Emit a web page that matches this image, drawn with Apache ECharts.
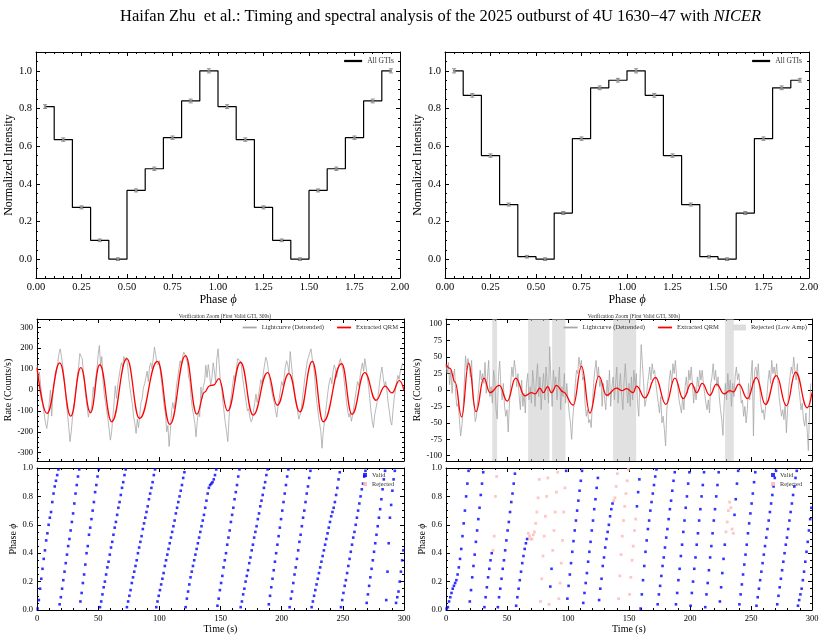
<!DOCTYPE html>
<html>
<head>
<meta charset="utf-8">
<script src="https://cdn.jsdelivr.net/npm/echarts@6/dist/echarts.min.js"></script>
<style>
html, body { margin: 0; padding: 0; background: #fff; }
#main { width: 825px; height: 637px; }
</style>
</head>
<body>
<div id="main"></div>
<script>
// ---- data ----
var phaseBins = [0.05, 0.15, 0.25, 0.35, 0.45, 0.55, 0.65, 0.75, 0.85, 0.95,
                 1.05, 1.15, 1.25, 1.35, 1.45, 1.55, 1.65, 1.75, 1.85, 1.95];
var profileA = [0.81, 0.635, 0.275, 0.10, 0.0, 0.365, 0.48, 0.645, 0.84, 1.0,
                0.81, 0.635, 0.275, 0.10, 0.0, 0.365, 0.48, 0.645, 0.84, 1.0];
var profileB = [1.0, 0.87, 0.55, 0.29, 0.013, 0.0, 0.245, 0.64, 0.91, 0.95,
                1.0, 0.87, 0.55, 0.29, 0.013, 0.0, 0.245, 0.64, 0.91, 0.95];
var errA = [0.010, 0.009, 0.008, 0.007, 0.007, 0.008, 0.009, 0.009, 0.010, 0.011,
            0.010, 0.009, 0.008, 0.007, 0.007, 0.008, 0.009, 0.009, 0.010, 0.011];
var errB = [0.011, 0.010, 0.009, 0.008, 0.007, 0.007, 0.008, 0.009, 0.010, 0.010,
            0.011, 0.010, 0.009, 0.008, 0.007, 0.007, 0.008, 0.009, 0.010, 0.010];

// detrended lightcurves, 1 s bins starting at t = 0
var rateLeft = [
  120, 40, 85, 20, -30, -80, -120, -160, -184, -140,
  -60, 0, -125, -20, 30, 60, 95, 130, 175, 197,
  160, 120, 60, 10, -60, -120, -180, -247, -200, -130,
  -90, -40, 20, 60, 110, 175, 160, 150, 80, 20,
  -40, -80, -130, -95, -110, -60, 15, -30, 60, 100,
  170, 213, 120, 160, 40, -20, -60, -100, -140, -190,
  -240, -200, -130, -60, 20, -40, 25, 60, 100, 130,
  110, 160, 140, 157, 120, 60, 10, -30, -70, -130,
  -160, -208, -140, -180, -120, -60, -40, 10, 30, 60,
  90, 40, 110, 130, 100, 150, 205, 170, 130, 120,
  140, 80, 30, -30, -80, -110, -200, -170, -271, -200,
  -100, -60, -90, -50, 20, 60, 100, 140, 120, 160,
  181, 170, 150, 130, 60, 40, -40, -90, -120, -160,
  -224, -150, -100, -128, 14, -40, 20, 38, 118, 60,
  122, 80, 20, 60, 130, 90, 40, 150, 197, 120,
  30, 10, -60, -110, -160, -200, -247, -130, -60, -20,
  30, 70, 40, 100, 150, 157, 140, 120, 60, 20,
  -20, -60, -100, -90, -130, -152, -140, -100, -60, -20,
  -60, -30, 10, 50, 30, 80, 120, 157, 140, 100,
  60, 20, -10, -40, -60, -100, -130, -80, -40, 0,
  40, 20, 60, 110, 140, 120, 80, 184, 120, 60,
  20, -30, -60, -100, -140, -120, -90, -40, 10, 60,
  100, 140, 160, 180, 197, 150, 120, 60, -20, -70,
  -120, -160, -200, -279, -200, -150, -100, -50, 0, 40,
  60, 30, 90, 120, 100, 60, 100, 130, 150, 120,
  100, 50, 0, -60, -100, -130, -110, -150, -120, -80,
  -40, 0, 40, 20, 60, 100, 130, 90, 150, 110,
  60, 20, -40, -100, -150, -180, -120, -90, -60, -20,
  30, 80, 110, 60, 20, 40, 0, -60, -100, -150,
  -168, -100, -40, 0, 40, 70, 50, 90, 99, 130
];
var rateRight = [
  38, 25, 42, 8, 30, -5, 20, 32, -8, -25,
  -20, -45, -70, -55, -30, 10, 52, 30, 48, 35,
  20, 45, -10, -25, -48, -40, -15, 5, 30, 15,
  25, 10, 42, -5, 20, 45, -10, 5, -20, 30,
  15, -30, -44, 20, 44, 5, -15, 10, -25, -40,
  -30, -64, -20, 10, 35, 20, 45, 30, 5, 25,
  -10, -30, 15, -25, -5, -35, 10, 25, -15, 5,
  -20, 30, 10, -25, 15, 40, -10, 20, -30, 5,
  25, -15, 35, 10, -20, 66, 15, -25, 30, 5,
  20, -15, 10, 35, -30, 5, -10, 25, -20, 10,
  -15, -35, -50, -75, -40, -20, 10, 30, 25, 50,
  35, 45, 15, 20, -20, -40, -30, -50, -45, -57,
  -20, 10, 30, 45, 20, 35, 5, 15, -25, 10,
  -15, -30, 15, -10, 30, -25, 5, 20, -15, 10,
  35, -20, 5, 25, -10, -30, 15, 40, 5, -20,
  10, -25, 20, -15, 30, 5, 25, -20, -40, 15,
  69, 40, 10, -25, -15, 5, 20, 35, 15, 40,
  25, 30, 10, -5, -20, -35, -10, -50, -40, -60,
  -85, -30, -10, 15, 30, 10, 40, 25, 45, 20,
  5, -15, -25, -35, -10, -30, 5, 20, -5, 30,
  15, 35, 10, -20, 5, -15, 20, 5, 30, 15,
  30, 10, -5, -20, -30, -15, -35, 10, 20, 40,
  15, 30, 5, 20, -10, -30, -45, -69, -20, 10,
  -15, 25, -5, 15, -25, 10, -10, 20, 35, 15,
  25, 5, -20, -15, -40, -25, -50, -30, 10, -15,
  20, 45, -70, 30, 35, 20, 40, 5, -20, -35,
  -30, -45, -25, -10, 15, 30, 10, 45, 25, 35,
  20, 40, 15, -10, -25, -40, -30, -45, -20, -65,
  -30, 5, 20, 35, 25, 50, 30, 15, 40, 5,
  -10, -30, -20, -45, -55, -35, -60, -92, -30, 10
];

// extracted QRM: turning points of the red curve
var qrmLeftT = [0, 8.2, 18.6, 27.6, 35.8, 43.7, 51.3, 61.1, 73.4, 83.8, 98.5, 108.6, 121.4, 130.7,
  137, 141, 144.5, 148.7, 155.8, 166.4, 176.7, 188.5, 196.4, 205.9, 214.9, 225, 234, 249, 257.5,
  267.9, 277.1, 284.5, 290.2, 296.2, 300];
var qrmLeftV = [107, -112, 130, -125, 107, -109, 121, -152, 150, -136, 137, -165, 165, -116,
  -10, 20, 24, 54, -100, 133, -120, 83, -73, 78, -105, 137, -152, 126, -116,
  83, -49, 19, -14, 45, -1];
var qrmRightT = [0, 3.3, 7.4, 12.8, 18.6, 24.6, 31.1, 36, 43.7, 50.2, 57.1, 64.7, 70, 73, 77, 79.7,
  83.3, 86.5, 90.6, 96, 104.3, 111.1, 117.9, 125.3, 131.6, 139.8, 144, 148, 153.4, 156.2, 163,
  171.7, 180.2, 187.6, 194.4, 201.2, 205.5, 210, 216.2, 221.7, 228, 232.6, 235.5, 240, 247,
  254.4, 261.8, 270.8, 279, 286.6, 296.2, 300];
var qrmRightV = [39, 33, 12, -41, 41, -33, 18, -4, 7, -17, 18, -9, -4, -6, 3, -4,
  5, -4, 7, -3, -23, 36, -35, 21, -8, 3, -1, 2, -4, 6, -12,
  19, -22, 18, -13, 10, -4, 10, -8, 9, -6, -1, -3, 9, -13,
  19, -22, 22, -24, 27, -27, -4];
var rejectSpans = [[37.9, 41.9], [67.3, 84.8], [87, 97.9], [137, 155.9], [228.8, 235.9]];

// instantaneous phase, one value per 1 s bin centred at t = i + 0.5
var phaseLeft = [
  0.01,
  0.07, 0.15, 0.22, 0.29, 0.36, 0.42, 0.49, 0.54, 0.60, 0.65, 0.69, 0.76, 0.82, 0.87, 0.91, 0.95, 0.99,
  0.04, 0.09, 0.15, 0.21, 0.27, 0.33, 0.39, 0.45, 0.50, 0.56, 0.62, 0.68, 0.75, 0.82, 0.88, 0.94, 0.99,
  0.06, 0.12, 0.19, 0.25, 0.32, 0.40, 0.45, 0.53, 0.58, 0.64, 0.70, 0.76, 0.83, 0.88, 0.94, 0.99,
  0.02, 0.06, 0.11, 0.16, 0.20, 0.25, 0.30, 0.34, 0.39, 0.44, 0.48, 0.53, 0.58, 0.62, 0.67, 0.72, 0.76, 0.81, 0.86, 0.90, 0.95, 0.99,
  0.02, 0.06, 0.10, 0.14, 0.19, 0.23, 0.27, 0.31, 0.35, 0.40, 0.44, 0.48, 0.52, 0.57, 0.61, 0.65, 0.69, 0.73, 0.78, 0.82, 0.86, 0.90, 0.95, 0.99,
  0.02, 0.06, 0.10, 0.14, 0.18, 0.22, 0.26, 0.31, 0.35, 0.39, 0.43, 0.47, 0.51, 0.55, 0.59, 0.63, 0.68, 0.72, 0.76, 0.80, 0.84, 0.88, 0.93, 0.97,
  0.02, 0.08, 0.13, 0.18, 0.23, 0.27, 0.31, 0.35, 0.39, 0.43, 0.47, 0.51, 0.55, 0.59, 0.63, 0.67, 0.72, 0.77, 0.82, 0.86, 0.88, 0.89, 0.90, 0.92, 0.95, 0.99,
  0.03, 0.08, 0.14, 0.19, 0.24, 0.30, 0.35, 0.40, 0.46, 0.51, 0.56, 0.62, 0.67, 0.72, 0.78, 0.83, 0.88, 0.94, 0.99,
  0.02, 0.06, 0.11, 0.15, 0.20, 0.24, 0.28, 0.33, 0.37, 0.42, 0.46, 0.51, 0.55, 0.59, 0.64, 0.68, 0.73, 0.77, 0.81, 0.86, 0.90, 0.95, 0.99,
  0.04, 0.10, 0.16, 0.22, 0.28, 0.34, 0.40, 0.46, 0.52, 0.58, 0.64, 0.70, 0.76, 0.82, 0.88, 0.94, 0.99,
  0.02, 0.08, 0.13, 0.19, 0.25, 0.30, 0.36, 0.42, 0.48, 0.53, 0.59, 0.65, 0.70, 0.76, 0.82, 0.87, 0.93, 0.98,
  0.02, 0.06, 0.10, 0.14, 0.18, 0.22, 0.26, 0.30, 0.34, 0.38, 0.42, 0.46, 0.50, 0.54, 0.58, 0.62, 0.66, 0.69, 0.72, 0.76, 0.81, 0.86, 0.92, 0.97,
  0.02, 0.07, 0.12, 0.17, 0.21, 0.26, 0.31, 0.36, 0.41, 0.46, 0.51, 0.55, 0.60, 0.65, 0.70, 0.75, 0.80, 0.85, 0.89, 0.94, 0.98,
  0.05, 0.11, 0.17, 0.23, 0.29, 0.35, 0.41, 0.47, 0.53, 0.59, 0.65, 0.71, 0.78, 0.85, 0.92, 0.98,
  0.07, 0.27, 0.47, 0.65, 0.74, 0.84, 0.92, 0.98,
  0.05, 0.09, 0.13, 0.20, 0.27, 0.35, 0.42
];
var phaseRight = [
  0.01,
  0.02, 0.06, 0.09, 0.12, 0.15, 0.17, 0.19, 0.21, 0.25, 0.30, 0.36, 0.43, 0.52, 0.61, 0.70, 0.80, 0.89, 0.98,
  0.06, 0.14, 0.23, 0.31, 0.39, 0.48, 0.56, 0.64, 0.72, 0.81, 0.89, 0.97,
  0.02, 0.09, 0.16, 0.23, 0.29, 0.35, 0.40,
  0.42, 0.52, 0.80, 0.94,
  0.02, 0.09, 0.15, 0.22, 0.29, 0.35, 0.42, 0.49, 0.56, 0.62, 0.69, 0.76, 0.82, 0.89, 0.96,
  0.03, 0.09, 0.15, 0.21, 0.27, 0.33, 0.38, 0.43, 0.47, 0.50,
  0.54, 0.52, 0.50, 0.50, 0.53, 0.55, 0.61, 0.69, 0.79, 0.92, 0.06, 0.22, 0.38, 0.52, 0.66, 0.80, 0.93, 0.04,
  0.165, 0.29,
  0.42, 0.56, 0.69, 0.83, 0.97, 0.08, 0.19, 0.33, 0.49, 0.69, 0.86,
  0.98, 0.08, 0.17, 0.25, 0.33, 0.41, 0.485, 0.56, 0.63, 0.70, 0.77, 0.84, 0.91, 0.98,
  0.05, 0.12, 0.19, 0.26, 0.34, 0.41, 0.48, 0.56, 0.63, 0.71, 0.78, 0.86, 0.93,
  0.07, 0.15, 0.22, 0.31, 0.37, 0.44, 0.50, 0.55, 0.60, 0.66, 0.71, 0.75,
  0.77, 0.79, 0.87, 0.96, 0.08, 0.24, 0.39, 0.52, 0.63, 0.73, 0.82, 0.91, 0.99, 0.11, 0.23, 0.35, 0.45, 0.56, 0.64,
  0.73, 0.83, 0.92, 0.01, 0.11, 0.21, 0.31, 0.41, 0.49, 0.57, 0.63, 0.70, 0.76, 0.82, 0.88, 0.94, 0.99,
  0.04, 0.11, 0.17, 0.24, 0.31, 0.37, 0.44, 0.51, 0.57, 0.64, 0.71, 0.77, 0.84, 0.91, 0.97,
  0.04, 0.12, 0.21, 0.29, 0.38, 0.46, 0.55, 0.63, 0.72, 0.80, 0.89, 0.97,
  0.03, 0.12, 0.20, 0.29, 0.37, 0.46, 0.54, 0.63, 0.71, 0.80, 0.88, 0.97,
  0.02, 0.11, 0.19, 0.28, 0.37, 0.45, 0.54, 0.63, 0.71, 0.80, 0.88, 0.97,
  0.06, 0.16, 0.26, 0.36, 0.46,
  0.55, 0.62, 0.70, 0.76, 0.72, 0.57, 0.54,
  0.67, 0.78, 0.89, 0.98,
  0.04, 0.11, 0.18, 0.25, 0.32, 0.39, 0.46, 0.54, 0.61, 0.68, 0.75, 0.82, 0.90, 0.97,
  0.03, 0.09, 0.15, 0.21, 0.27, 0.33, 0.39, 0.45, 0.51, 0.57, 0.63, 0.69, 0.75, 0.81, 0.87, 0.93, 0.98,
  0.04, 0.10, 0.16, 0.22, 0.28, 0.34, 0.40, 0.46, 0.51, 0.57, 0.63, 0.69, 0.75, 0.81, 0.87, 0.93, 0.98,
  0.03, 0.07, 0.11, 0.15, 0.21, 0.27, 0.34, 0.41, 0.48, 0.56, 0.64, 0.72
];

// ---- helpers ----
var FONT = '"Liberation Serif", "Times New Roman", serif';
var LINE_ICON = 'path://M0,0 L40,0 L40,5 L0,5 Z';
var GRAY = '#a6a6a6';
var RED = '#ff0000';

function zip(a, b) {
    return a.map(function (v, i) { return [v, b[i]]; });
}
function inSpan(t) {
    for (var k = 0; k < rejectSpans.length; k++) {
        if (t >= rejectSpans[k][0] && t <= rejectSpans[k][1]) return true;
    }
    return false;
}

function xAxes(g, min, max, interval, fs, showLabels, name, gap) {
    var base = {
        type: 'value', gridIndex: g, min: min, max: max, interval: interval,
        axisLine: {onZero: false, lineStyle: {color: '#000', width: 1}},
        axisTick: {inside: true, length: 4, lineStyle: {color: '#000'}},
        minorTick: {show: true, splitNumber: 5, length: 2, lineStyle: {color: '#000'}},
        splitLine: {show: false}
    };
    var bottom = Object.assign({}, base, {
        position: 'bottom',
        name: name, nameLocation: 'middle', nameGap: gap,
        nameTextStyle: {fontFamily: FONT, fontSize: fs + 1.5, color: '#000',
            rich: {i: {fontFamily: FONT, fontSize: fs + 1.5, fontStyle: 'italic', color: '#000'}}},
        axisLabel: {show: showLabels, fontFamily: FONT, fontSize: fs, color: '#000', margin: 4}
    });
    var top = Object.assign({}, base, {position: 'top', axisLabel: {show: false}});
    return [bottom, top];
}

function yAxes(g, min, max, fs, name, gap, extra) {
    var base = {
        type: 'value', gridIndex: g, min: min, max: max,
        axisLine: {onZero: false, lineStyle: {color: '#000', width: 1}},
        axisTick: {inside: true, length: 4, lineStyle: {color: '#000'}},
        minorTick: {show: true, splitNumber: 4, length: 2, lineStyle: {color: '#000'}},
        splitLine: {show: false}
    };
    Object.assign(base, extra || {});
    var left = Object.assign({}, base, {
        position: 'left',
        name: name, nameLocation: 'middle', nameGap: gap,
        nameTextStyle: {fontFamily: FONT, fontSize: fs + 1.5, color: '#000',
            rich: {i: {fontFamily: FONT, fontSize: fs + 1.5, fontStyle: 'italic', color: '#000'}}},
        axisLabel: Object.assign({fontFamily: FONT, fontSize: fs, color: '#000', margin: 4,
            showMinLabel: false, showMaxLabel: false}, (extra && extra.axisLabel) || {})
    });
    var right = Object.assign({}, base, {position: 'right', axisLabel: {show: false}});
    return [left, right];
}

function errRender(params, api) {
    var x = api.value(0), y = api.value(1), e = api.value(2);
    var hi = api.coord([x, y + e]);
    var lo = api.coord([x, y - e]);
    var mid = api.coord([x, y]);
    var st = {stroke: '#8c8c8c', lineWidth: 1};
    return {
        type: 'group',
        children: [
            {type: 'line', shape: {x1: hi[0], y1: hi[1], x2: lo[0], y2: lo[1]}, style: st},
            {type: 'line', shape: {x1: hi[0] - 2, y1: hi[1], x2: hi[0] + 2, y2: hi[1]}, style: st},
            {type: 'line', shape: {x1: lo[0] - 2, y1: lo[1], x2: lo[0] + 2, y2: lo[1]}, style: st},
            {type: 'circle', shape: {cx: mid[0], cy: mid[1], r: 1.3}, style: {fill: '#8c8c8c'}}
        ]
    };
}

// ---- build series data ----
var profileDataA = zip(phaseBins, profileA);
var profileDataB = zip(phaseBins, profileB);
var errDataA = phaseBins.map(function (p, i) { return [p, profileA[i], errA[i]]; });
var errDataB = phaseBins.map(function (p, i) { return [p, profileB[i], errB[i]]; });
var lcLeft = rateLeft.map(function (v, i) { return [i, v]; });
var lcRight = rateRight.map(function (v, i) { return [i, v]; });
var validLeft = phaseLeft.map(function (p, i) { return [i + 0.5, p]; });
var validRight = [], rejectedRight = [];
phaseRight.forEach(function (p, i) {
    var t = i + 0.5;
    if (inSpan(t)) rejectedRight.push([t, p]); else validRight.push([t, p]);
});

var grids = [
    {left: 36, top: 52, width: 364, height: 226},
    {left: 445, top: 52, width: 364, height: 226},
    {left: 37, top: 319, width: 367, height: 142},
    {left: 446, top: 319, width: 366, height: 142},
    {left: 37, top: 468, width: 367, height: 142},
    {left: 446, top: 468, width: 366, height: 142}
];

var xs = [].concat(
    xAxes(0, 0, 2, 0.25, 10.5, true, 'Phase {i|\u03d5}', 13),
    xAxes(1, 0, 2, 0.25, 10.5, true, 'Phase {i|\u03d5}', 13),
    xAxes(2, 0, 300, 50, 8.5, false, '', 10),
    xAxes(3, 0, 300, 50, 8.5, false, '', 10),
    xAxes(4, 0, 300, 50, 8.5, true, 'Time (s)', 11),
    xAxes(5, 0, 300, 50, 8.5, true, 'Time (s)', 11)
);
xs.forEach(function (a) {
    if (a.max === 2) { a.axisLabel.formatter = function (v) { return v.toFixed(2); }; }
});

var ticksRight = [-100, -75, -50, -25, 0, 25, 50, 75, 100];
var ys = [].concat(
    yAxes(0, -0.1, 1.1, 10.5, 'Normalized Intensity', 21, {splitNumber: 6,
        axisLabel: {formatter: function (v) { return v.toFixed(1); }}}),
    yAxes(1, -0.1, 1.1, 10.5, 'Normalized Intensity', 21, {splitNumber: 6,
        axisLabel: {formatter: function (v) { return v.toFixed(1); }}}),
    yAxes(2, -340, 340, 8.5, 'Rate (Counts/s)', 22, {splitNumber: 7}),
    yAxes(3, -108, 108, 8.5, 'Rate (Counts/s)', 19, {
        axisTick: {inside: true, length: 4, lineStyle: {color: '#000'}, customValues: ticksRight},
        minorTick: {show: false},
        axisLabel: {customValues: ticksRight, showMinLabel: true, showMaxLabel: true}}),
    yAxes(4, 0, 1, 8.5, 'Phase {i|\u03d5}', 16, {interval: 0.2,
        axisLabel: {showMinLabel: true, showMaxLabel: true, formatter: function (v) { return v.toFixed(1); }}}),
    yAxes(5, 0, 1, 8.5, 'Phase {i|\u03d5}', 18, {interval: 0.2,
        axisLabel: {showMinLabel: true, showMaxLabel: true, formatter: function (v) { return v.toFixed(1); }}})
);

var legendText = {fontFamily: FONT, color: '#333'};
var noBorder = {borderWidth: 0};
var itemGti = {name: 'All GTIs', icon: LINE_ICON, itemStyle: {color: '#000', borderWidth: 0}};
var itemLc = {name: 'Lightcurve (Detrended)', icon: LINE_ICON, itemStyle: {color: GRAY, borderWidth: 0}};
var itemQrm = {name: 'Extracted QRM', icon: LINE_ICON, itemStyle: {color: RED, borderWidth: 0}};
var itemRej = {name: 'Rejected (Low Amp)', icon: 'rect', itemStyle: {color: '#dcdcdc', borderWidth: 0}};

var option = {
    animation: false,
    backgroundColor: '#fff',
    title: [
        {
            text: 'Haifan Zhu  et al.: Timing and spectral analysis of the 2025 outburst of 4U 1630\u221247 with {i|NICER}',
            left: 115, top: 3,
            textStyle: {fontFamily: FONT, fontSize: 16.5, fontWeight: 'normal', color: '#000',
                rich: {i: {fontFamily: FONT, fontSize: 16.5, fontStyle: 'italic', color: '#000'}}}
        },
        {
            text: 'Verification Zoom (First Valid GTI, 300s)', left: 220, top: 309, textAlign: 'center',
            textStyle: {fontFamily: FONT, fontSize: 5.5, fontWeight: 'normal', color: '#333'}
        },
        {
            text: 'Verification Zoom (First Valid GTI, 300s)', left: 629, top: 309, textAlign: 'center',
            textStyle: {fontFamily: FONT, fontSize: 5.5, fontWeight: 'normal', color: '#333'}
        }
    ],
    legend: [
        {data: [itemGti], right: 431, top: 57, padding: 0, itemStyle: noBorder,
            lineStyle: {width: 1.4},
            itemWidth: 18, itemHeight: 8, textStyle: Object.assign({fontSize: 7.5}, legendText)},
        {data: [itemGti], right: 23, top: 57, padding: 0, itemStyle: noBorder,
            lineStyle: {width: 1.4},
            itemWidth: 18, itemHeight: 8, textStyle: Object.assign({fontSize: 7.5}, legendText)},
        {data: [itemLc, itemQrm], itemStyle: noBorder, lineStyle: {width: 1.4},
            right: 427, top: 324, padding: 0, itemWidth: 14, itemHeight: 6, itemGap: 13,
            textStyle: Object.assign({fontSize: 6.6}, legendText)},
        {data: [itemLc, itemQrm, itemRej], itemStyle: noBorder, lineStyle: {width: 1.4},
            right: 18, top: 324, padding: 0, itemWidth: 14, itemHeight: 6, itemGap: 13,
            textStyle: Object.assign({fontSize: 6.6}, legendText)},
        {data: ['Valid', 'Rejected'], orient: 'vertical', left: 363, top: 472, padding: 0,
            itemWidth: 4, itemHeight: 4, itemGap: 3, textStyle: Object.assign({fontSize: 6.3}, legendText)},
        {data: ['Valid', 'Rejected'], orient: 'vertical', left: 771, top: 472, padding: 0,
            itemWidth: 4, itemHeight: 4, itemGap: 3, textStyle: Object.assign({fontSize: 6.3}, legendText)}
    ],
    grid: grids,
    xAxis: xs,
    yAxis: ys,
    series: [
        {name: 'All GTIs', type: 'line', xAxisIndex: 0, yAxisIndex: 0, step: 'middle', symbol: 'none',
            lineStyle: {color: '#000', width: 1.2}, itemStyle: {color: '#000'}, data: profileDataA, z: 3},
        {type: 'custom', xAxisIndex: 0, yAxisIndex: 0, renderItem: errRender, data: errDataA, z: 4},
        {name: 'All GTIs', type: 'line', xAxisIndex: 2, yAxisIndex: 2, step: 'middle', symbol: 'none',
            lineStyle: {color: '#000', width: 1.2}, itemStyle: {color: '#000'}, data: profileDataB, z: 3},
        {type: 'custom', xAxisIndex: 2, yAxisIndex: 2, renderItem: errRender, data: errDataB, z: 4},

        {name: 'Lightcurve (Detrended)', type: 'line', xAxisIndex: 4, yAxisIndex: 4, symbol: 'none',
            lineStyle: {color: GRAY, width: 0.8}, itemStyle: {color: GRAY}, data: lcLeft, z: 2},
        {name: 'Extracted QRM', type: 'line', xAxisIndex: 4, yAxisIndex: 4, symbol: 'none',
            smooth: 0.45, smoothMonotone: 'x',
            lineStyle: {color: RED, width: 1.3}, itemStyle: {color: RED},
            data: zip(qrmLeftT, qrmLeftV), z: 3},

        {name: 'Rejected (Low Amp)', type: 'line', xAxisIndex: 6, yAxisIndex: 6, symbol: 'none',
            lineStyle: {color: '#dcdcdc'}, itemStyle: {color: '#dcdcdc'}, data: [], z: 1,
            markArea: {silent: true, itemStyle: {color: 'rgba(200,200,200,0.55)'},
                data: rejectSpans.map(function (s) { return [{xAxis: s[0]}, {xAxis: s[1]}]; })}},
        {name: 'Lightcurve (Detrended)', type: 'line', xAxisIndex: 6, yAxisIndex: 6, symbol: 'none',
            lineStyle: {color: GRAY, width: 0.8}, itemStyle: {color: GRAY}, data: lcRight, z: 2},
        {name: 'Extracted QRM', type: 'line', xAxisIndex: 6, yAxisIndex: 6, symbol: 'none',
            smooth: 0.45, smoothMonotone: 'x',
            lineStyle: {color: RED, width: 1.3}, itemStyle: {color: RED},
            data: zip(qrmRightT, qrmRightV), z: 3},

        {name: 'Valid', type: 'scatter', xAxisIndex: 8, yAxisIndex: 8, symbol: 'rect', symbolSize: 2.6,
            itemStyle: {color: '#0000ff'}, data: validLeft},
        {name: 'Rejected', type: 'scatter', xAxisIndex: 8, yAxisIndex: 8, symbol: 'rect', symbolSize: 2.6,
            itemStyle: {color: '#ffb3b3'}, data: []},
        {name: 'Valid', type: 'scatter', xAxisIndex: 10, yAxisIndex: 10, symbol: 'rect', symbolSize: 2.6,
            itemStyle: {color: '#0000ff'}, data: validRight},
        {name: 'Rejected', type: 'scatter', xAxisIndex: 10, yAxisIndex: 10, symbol: 'rect', symbolSize: 2.8,
            itemStyle: {color: '#ffb8b8'}, data: rejectedRight}
    ]
};

var myChart = echarts.init(document.getElementById('main'));
myChart.setOption(option);
</script>
</body>
</html>
